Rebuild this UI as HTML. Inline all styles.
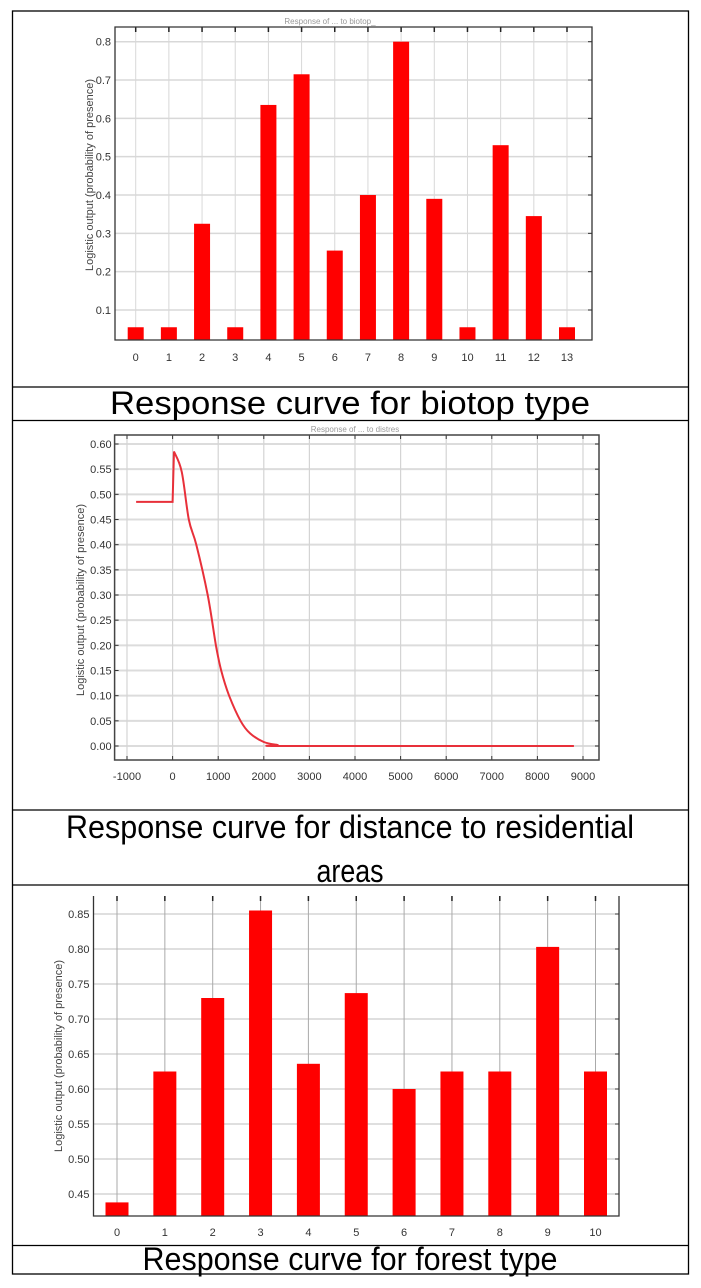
<!DOCTYPE html>
<html><head><meta charset="utf-8"><style>
html,body{margin:0;padding:0;background:#fff;}
svg{display:block;font-family:"Liberation Sans",sans-serif;}
.tick{font-size:11px;fill:#333;}
.cap{font-family:"Liberation Sans Narrow","Liberation Sans","Noto Sans CJK KR",sans-serif;font-size:32px;fill:#000;}
</style></head><body>
<svg id="root" width="701" height="1288" viewBox="0 0 701 1288">
<g stroke="#000" stroke-width="1.3" fill="none">
<rect x="12.5" y="11" width="676" height="1263"/>
<line x1="12.5" y1="387" x2="688.5" y2="387"/>
<line x1="12.5" y1="420.5" x2="688.5" y2="420.5"/>
<line x1="12.5" y1="810" x2="688.5" y2="810"/>
<line x1="12.5" y1="885" x2="688.5" y2="885"/>
<line x1="12.5" y1="1245.5" x2="688.5" y2="1245.5"/>
</g>
<text class="cap" x="350" y="414" text-anchor="middle" textLength="480" lengthAdjust="spacingAndGlyphs">Response curve for biotop type</text>
<text class="cap" x="350" y="838" text-anchor="middle" textLength="568" lengthAdjust="spacingAndGlyphs">Response curve for distance to residential</text>
<text class="cap" x="350" y="882" text-anchor="middle" textLength="67" lengthAdjust="spacingAndGlyphs">areas</text>
<text class="cap" x="350" y="1270" text-anchor="middle" textLength="415" lengthAdjust="spacingAndGlyphs">Response curve for forest type</text>
<g id="c1"></g>
<g id="c2"></g>
<g id="c3"></g>
</svg>
<script>
// Chart 1 data
const biotopCats = ["0","1","2","3","4","5","6","7","8","9","10","11","12","13"];
const biotopVals = [0.055,0.055,0.325,0.055,0.635,0.715,0.255,0.4,0.8,0.39,0.055,0.53,0.345,0.055];
const biotopTicks = [0.1,0.2,0.3,0.4,0.5,0.6,0.7,0.8];
// Chart 2 data
const distX = [-800,0,30,200,355,520,770,950,1065,1240,1490,1700,2000,2300,2600,8800];
const distY = [0.485,0.485,0.585,0.545,0.45,0.40,0.30,0.20,0.15,0.10,0.05,0.025,0.008,0.002,0,0];
const distXTicks = [-1000,0,1000,2000,3000,4000,5000,6000,7000,8000,9000];
const distYTicks = [0,0.05,0.1,0.15,0.2,0.25,0.3,0.35,0.4,0.45,0.5,0.55,0.6];
// Chart 3 data
const forestCats = ["0","1","2","3","4","5","6","7","8","9","10"];
const forestVals = [0.438,0.625,0.73,0.855,0.636,0.737,0.6,0.625,0.625,0.803,0.625];
const forestTicks = [0.45,0.5,0.55,0.6,0.65,0.7,0.75,0.8,0.85];

const NS="http://www.w3.org/2000/svg";
function mk(parent,tag,attrs,text){const e=document.createElementNS(NS,tag);for(const k in attrs)e.setAttribute(k,attrs[k]);if(text!==undefined)e.textContent=text;parent.appendChild(e);return e;}

function barChart(g,cats,vals,ticks,o){
  const yS=v=>o.y0px+(v-o.y0)*(o.y1px-o.y0px)/(o.y1-o.y0);
  const xS=i=>o.x0px+i*(o.x1px-o.x0px)/(cats.length-1);
  ticks.forEach(t=>{const y=yS(t);
    const l=mk(g,'line',{x1:o.L,x2:o.R,y1:y,y2:y,stroke:o.grid,'stroke-width':o.gw});
    
    
    const tx=mk(g,'text',{x:o.L-4,y:y+4,'text-anchor':'end',class:'tick'},o.fmt(t));
    
    
    mk(g,'line',{x1:o.R-4,x2:o.R,y1:y,y2:y,stroke:'#333'});
  });
  cats.forEach((c,i)=>{const x=xS(i);
    const l=mk(g,'line',{x1:x,x2:x,y1:o.T,y2:o.B,stroke:o.grid,'stroke-width':1});
    
    
    mk(g,'line',{x1:x,x2:x,y1:o.T,y2:o.T+5,stroke:'#222','stroke-width':1.5});
    const tx=mk(g,'text',{x:x,y:o.lblY,'text-anchor':'middle',class:'tick'},c);
    
    
  });
  vals.forEach((v,i)=>{const x=xS(i),y=yS(v);
    const r=mk(g,'rect',{x:x-o.bw/2,y:y,width:o.bw,height:o.B-y,fill:'#ff0000'});
    
    
  });
  const ax=mk(g,'path',{d:o.frame,fill:'none',stroke:'#333','stroke-width':1.3});
  
  
  const yl=mk(g,'text',{x:0,y:0,transform:`translate(${o.ylx},${o.yly}) rotate(-90)`,'text-anchor':'middle',style:'font-size:11px;fill:#444'},'Logistic output (probability of presence)');
  
  
}

barChart(document.getElementById('c1'),biotopCats,biotopVals,biotopTicks,{
  L:115,R:592,T:27,B:340,x0px:135.7,x1px:567,y0:0.1,y1:0.8,y0px:310,y1px:41.7,bw:16,
  grid:'#d8d8d8',gw:1.5,lblY:361,fmt:t=>t.toFixed(1),
  frame:'M115,27 H592 V340 H115 Z',ylx:93,yly:175});
const t1=mk(document.getElementById('c1'),'text',{x:330,y:24,'text-anchor':'middle',style:'font-size:8px;fill:#999'},'Response of ... to biotop_');



barChart(document.getElementById('c3'),forestCats,forestVals,forestTicks,{
  L:93.5,R:619,T:896,B:1216,x0px:117,x1px:595.5,y0:0.45,y1:0.85,y0px:1194,y1px:914,bw:23,
  grid:'#aaaaaa',gw:0.8,lblY:1236,fmt:t=>t.toFixed(2),
  frame:'M93.5,896 V1216 H619 V896',ylx:62,yly:1056});

(function(){
  const g=document.getElementById('c2');
  const L=114.6,R=599,T=435,B=760;
  const xS=v=>127+(v+1000)*(583-127)/10000;
  const yS=v=>746-v*(746-444)/0.6;
  distYTicks.forEach(t=>{const y=yS(t);
    const l=mk(g,'line',{x1:L,x2:R,y1:y,y2:y,stroke:'#dcdcdc','stroke-width':2});
    
    
    mk(g,'line',{x1:L,x2:L+4,y1:y,y2:y,stroke:'#333'});
    mk(g,'line',{x1:R-4,x2:R,y1:y,y2:y,stroke:'#333'});
    const tx=mk(g,'text',{x:L-3,y:y+4,'text-anchor':'end',class:'tick'},t.toFixed(2));
    
    
  });
  distXTicks.forEach(t=>{const x=xS(t);
    const l=mk(g,'line',{x1:x,x2:x,y1:T,y2:B,stroke:'#d4d4d4','stroke-width':1.2});
    
    
    mk(g,'line',{x1:x,x2:x,y1:T,y2:T+4,stroke:'#333'});
    mk(g,'line',{x1:x,x2:x,y1:B-4,y2:B,stroke:'#333'});
    const tx=mk(g,'text',{x:x,y:780,'text-anchor':'middle',class:'tick'},String(t));
    
    
  });
  // straight for first 3 points, Catmull-Rom smoothing for the decline
  const P=distX.map((x,i)=>[xS(x),yS(distY[i])]);
  let d='M'+P[0][0]+','+P[0][1]+'L'+P[1][0]+','+P[1][1]+'L'+P[2][0]+','+P[2][1];
  for(let i=2;i<P.length-1;i++){
    const p0=P[Math.max(i-1,2)],p1=P[i],p2=P[i+1],p3=P[Math.min(i+2,P.length-1)];
    let c1y=p1[1]+(p2[1]-p0[1])/6,c2y=p2[1]-(p3[1]-p1[1])/6;
    const lo=yS(0);c1y=Math.min(c1y,lo);c2y=Math.min(c2y,lo);
    d+='C'+(p1[0]+(p2[0]-p0[0])/6).toFixed(1)+','+c1y.toFixed(1)+' '+(p2[0]-(p3[0]-p1[0])/6).toFixed(1)+','+c2y.toFixed(1)+' '+p2[0].toFixed(1)+','+p2[1].toFixed(1);
  }
  const p=mk(g,'path',{d:d,fill:'none',stroke:'#e8303a','stroke-width':2});
  
  
  const ax=mk(g,'rect',{x:L,y:T,width:R-L,height:B-T,fill:'none',stroke:'#444','stroke-width':1.5});
  
  
  const yl=mk(g,'text',{x:0,y:0,transform:'translate(84,600) rotate(-90)','text-anchor':'middle',style:'font-size:11px;fill:#444'},'Logistic output (probability of presence)');
  
  
  const t=mk(g,'text',{x:355,y:432,'text-anchor':'middle',style:'font-size:8px;fill:#999'},'Response of ... to distres');
  
  
})();
</script>
</body></html>
